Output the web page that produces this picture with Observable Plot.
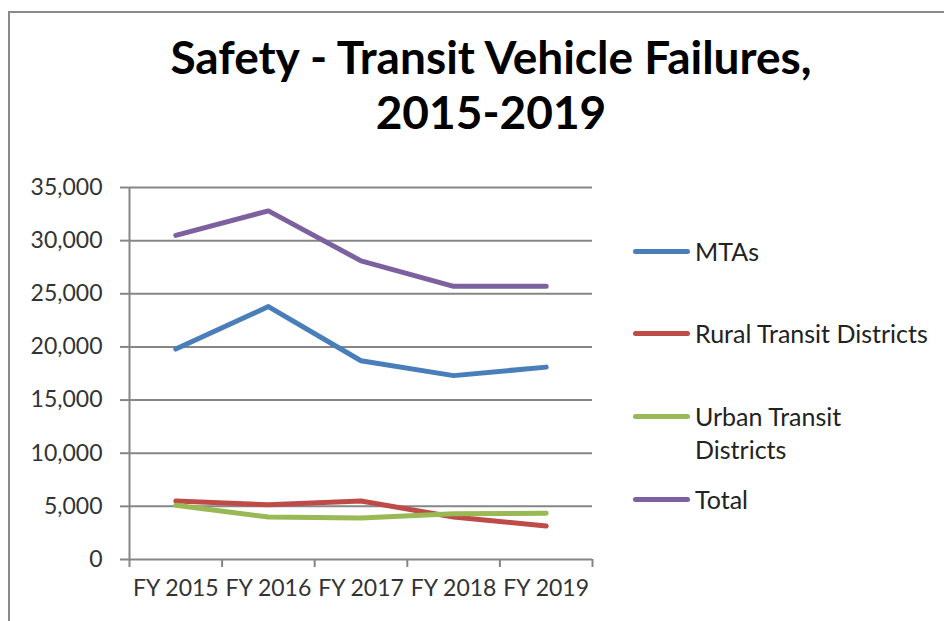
<!DOCTYPE html>
<html><head><meta charset="utf-8">
<script src="https://cdn.jsdelivr.net/npm/d3@7"></script>
<script src="https://cdn.jsdelivr.net/npm/@observablehq/plot@0.6"></script>
<style>
body{margin:0;background:#fff;font-family:Lato,"Open Sans",sans-serif;width:944px;height:621px;overflow:hidden;position:relative;}
#frame{position:absolute;left:8px;top:11px;width:990px;height:660px;border-top:2px solid #8a8a8a;border-left:2px solid #8a8a8a;}
#title{position:absolute;left:0;top:29px;width:982px;text-align:center;font-weight:bold;font-size:46px;line-height:55px;color:#000;}
#chart{position:absolute;left:0;top:150px;}
.sw{position:absolute;left:633px;width:57px;height:5px;border-radius:3px;}
.lt{position:absolute;left:695px;font-size:25px;line-height:33px;color:#222;white-space:nowrap;}
</style>
</head><body>
<div id="frame"></div>
<div id="title">Safety - Transit Vehicle Failures,<br>2015-2019</div>
<div id="chart"></div>
<div id="legend"></div>
<script>
const years = ["FY 2015","FY 2016","FY 2017","FY 2018","FY 2019"];
const seriesNames = ["MTAs","Rural Transit Districts","Urban Transit Districts","Total"];
const mtas  = [19800, 23800, 18700, 17300, 18100];
const rural = [5500, 5150, 5500, 4000, 3150];
const urban = [5100, 4000, 3900, 4300, 4350];
const total = [30500, 32800, 28100, 25700, 25700];
const colors = ["#4A7EBB","#BE4B48","#98B954","#7D60A0"];
const yTicks = [0,5000,10000,15000,20000,25000,30000,35000];

const seriesValues = [mtas, rural, urban, total];
const data = [];
seriesValues.forEach((vals, s) => vals.forEach((v, i) => data.push({series: seriesNames[s], pos: i + 0.5, year: years[i], value: v})));
const bounds = years.map((d, i) => i).concat([years.length]);
const centers = years.map((d, i) => i + 0.5);

const grey = "#868686";
const chart = Plot.plot({
  width: 944,
  height: 469,
  marginTop: 37,
  marginBottom: 60,
  marginLeft: 129,
  marginRight: 352,
  style: {fontFamily: "Lato, 'Open Sans', sans-serif", fontSize: "23px", color: "#333", background: "transparent", overflow: "visible"},
  x: {type: "linear", domain: [0, years.length], axis: null},
  y: {domain: [0, 35000], axis: null},
  color: {domain: seriesNames, range: colors},
  marks: [
    Plot.gridY(yTicks, {stroke: grey, strokeOpacity: 1, strokeWidth: 2}),
    Plot.ruleX([0], {stroke: grey, strokeWidth: 2}),
    Plot.axisY(yTicks, {label: null, tickSize: 9, tickPadding: 18, tickFormat: d3.format(","), stroke: grey, fill: "#333", fontSize: 23, strokeWidth: 2, strokeOpacity: 1}),
    Plot.axisX(bounds, {label: null, tickSize: 8, tickFormat: () => "", stroke: grey, strokeWidth: 2, strokeOpacity: 1}),
    Plot.axisX(centers, {label: null, tickSize: 0, tickPadding: 20, tickFormat: d => years[Math.floor(d)], fill: "#333", fontSize: 23}),
    Plot.line(data, {x: "pos", y: "value", z: "series", stroke: "series", strokeWidth: 5, strokeLinecap: "round", strokeLinejoin: "round"})
  ]
});
document.getElementById("chart").appendChild(chart);

// legend
const legendY = [251, 333, 416, 499];
const legendLines = [["MTAs"], ["Rural Transit Districts"], ["Urban Transit", "Districts"], ["Total"]];
const leg = document.getElementById("legend");
seriesNames.forEach((name, i) => {
  const sw = document.createElement("div");
  sw.className = "sw";
  sw.style.top = (legendY[i] - 2.5) + "px";
  sw.style.background = colors[i];
  leg.appendChild(sw);
  const t = document.createElement("div");
  t.className = "lt";
  t.style.top = (legendY[i] - 16.5) + "px";
  t.innerHTML = legendLines[i].join("<br>");
  leg.appendChild(t);
});
</script>
</body></html>
